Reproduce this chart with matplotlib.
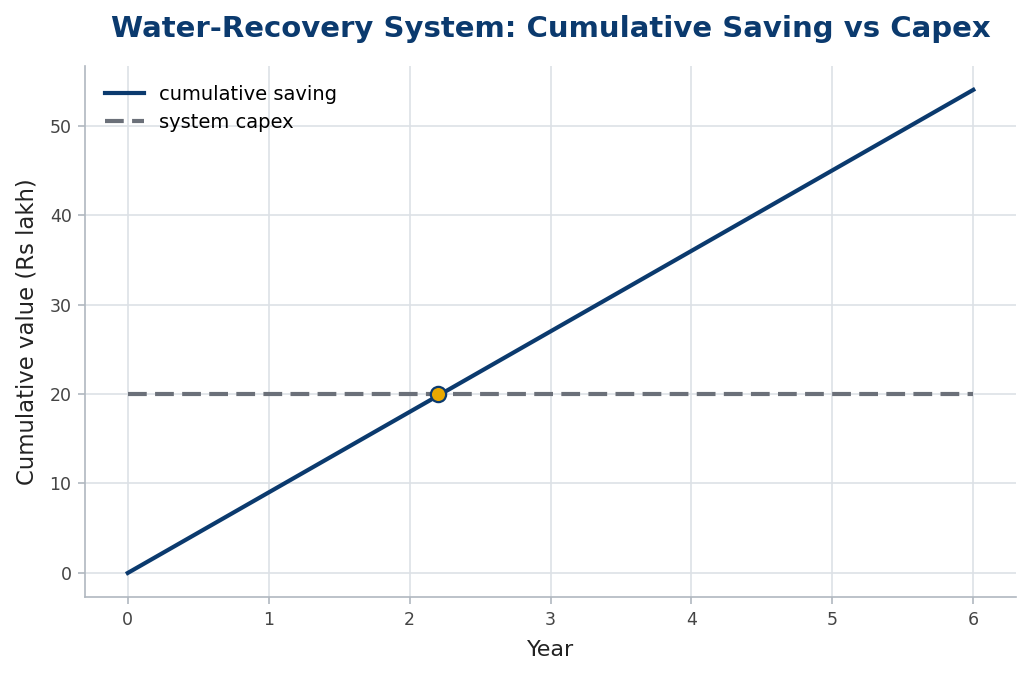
import matplotlib.pyplot as plt
import numpy as np

# Data
years = [0, 1, 2, 3, 4, 5, 6]
cumulative_saving = [0, 9, 18, 27, 36, 45, 54]
capex = [20, 20, 20, 20, 20, 20, 20]
breakeven_year = 2.2
breakeven_value = 20

fig, ax = plt.subplots(figsize=(10.3, 6.77), dpi=100)

ax.plot(years, cumulative_saving, color='#0b3a6e', linewidth=3, label='cumulative saving', zorder=3)
ax.plot(years, capex, color='#6b7079', linewidth=3, linestyle=(0, (4.5, 2)), label='system capex', zorder=2)
ax.plot([breakeven_year], [breakeven_value], marker='o', markersize=11, markerfacecolor='#e8a800',
        markeredgecolor='#0b3a6e', markeredgewidth=1.6, linestyle='none', zorder=4)

ax.set_title('Water-Recovery System: Cumulative Saving vs Capex', color='#0b3a6e',
             fontsize=21, fontweight='bold', pad=21)
ax.set_xlabel('Year', fontsize=16, color='#222222', labelpad=8)
ax.set_ylabel('Cumulative value (Rs lakh)', fontsize=16.4, color='#222222', labelpad=8)

ax.set_xlim(-0.3, 6.3)
ax.set_ylim(-2.7, 56.7)
ax.set_yticks([0, 10, 20, 30, 40, 50])

ax.grid(color='#dde1e6', linewidth=1.2)
ax.set_axisbelow(True)
for s in ['top', 'right']:
    ax.spines[s].set_visible(False)
for s in ['left', 'bottom']:
    ax.spines[s].set_color('#b0b8c0')
    ax.spines[s].set_linewidth(1.2)
ax.tick_params(colors='#444444', labelsize=12.5, length=5, width=1.2, pad=5)
ax.tick_params(axis='both', color='#b0b8c0')

leg = ax.legend(loc='upper left', frameon=False, fontsize=14, labelspacing=0.45,
                borderaxespad=0.6)

plt.subplots_adjust(left=0.083, right=0.986, top=0.903, bottom=0.118)
plt.savefig('out.png', dpi=100)
plt.close()
